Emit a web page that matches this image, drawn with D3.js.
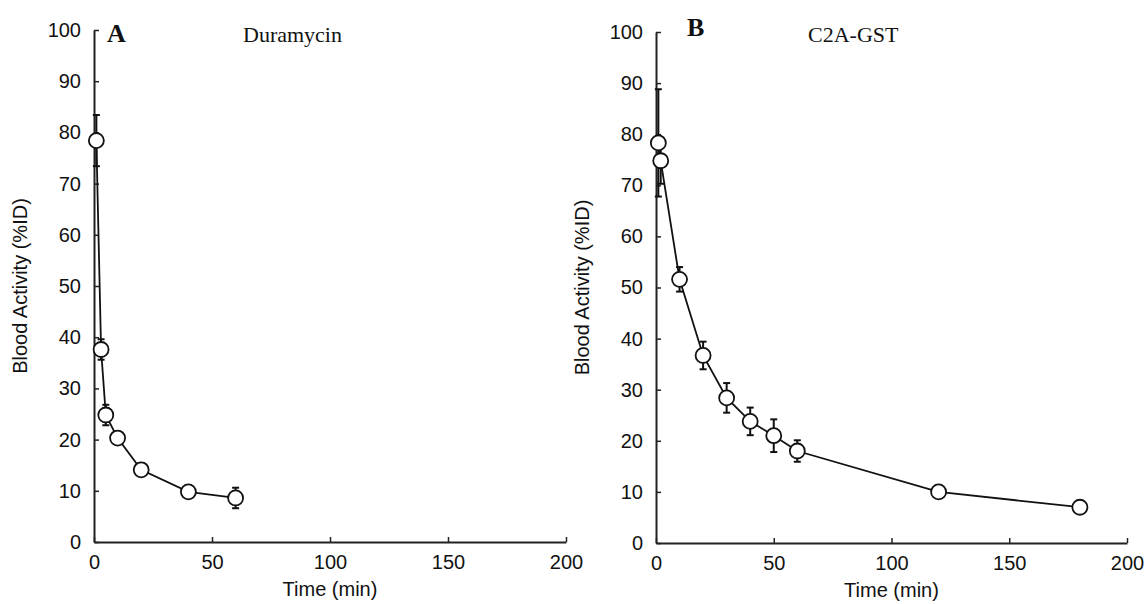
<!DOCTYPE html>
<html>
<head>
<meta charset="utf-8">
<script src="https://d3js.org/d3.v7.min.js"></script>
<style>
  body { margin: 0; background: #fff; }
  svg { display: block; }
</style>
</head>
<body>
<svg width="1147" height="604"></svg>
<script>
// panel A - duramycin
var timesA = [1, 3, 5, 10, 20, 40, 60];
var valuesA = [78.4, 37.6, 24.8, 20.3, 14.1, 9.8, 8.6];
var errorsA = [5, 2, 2, 1, 1, 0.8, 2];

// panel B - C2A-GST
var timesB = [1, 2, 10, 20, 30, 40, 50, 60, 120, 180];
var valuesB = [78.3, 74.8, 51.6, 36.7, 28.4, 23.8, 21.0, 18.0, 10.0, 7.0];
var errorsB = [10.5, 4.5, 2.4, 2.7, 2.9, 2.7, 3.2, 2.1, 0.8, 0.8];

var xTicks = [0, 50, 100, 150, 200];
var yTicks = [0, 10, 20, 30, 40, 50, 60, 70, 80, 90, 100];

var panels = [
  {letter: "A", title: "Duramycin", times: timesA, values: valuesA, errors: errorsA,
   left: 94, right: 566, top: 30, bottom: 542, letterX: 107, letterY: 42, titleX: 243, titleY: 42},
  {letter: "B", title: "C2A-GST", times: timesB, values: valuesB, errors: errorsB,
   left: 656, right: 1127, top: 32, bottom: 543, letterX: 687, letterY: 36, titleX: 808, titleY: 42}
];

var svg = d3.select("svg");

function drawPanel(p) {
  var x = d3.scaleLinear().domain([0, 200]).range([p.left, p.right]);
  var y = d3.scaleLinear().domain([0, 100]).range([p.bottom, p.top]);

  var g = svg.append("g");

  // axes, ticks pointing inward
  var xAxis = d3.axisBottom(x).tickValues(xTicks).tickSizeInner(-5).tickSizeOuter(0).tickPadding(13);
  var yAxis = d3.axisLeft(y).tickValues(yTicks).tickSizeInner(-5).tickSizeOuter(0).tickPadding(13);

  g.append("g")
    .attr("transform", "translate(0," + p.bottom + ")")
    .call(xAxis);
  g.append("g")
    .attr("transform", "translate(" + p.left + ",0)")
    .call(yAxis);

  g.selectAll(".domain").attr("stroke", "#222").attr("stroke-width", 2);
  g.selectAll(".tick line").attr("stroke", "#222").attr("stroke-width", 1.5);
  g.selectAll(".tick text")
    .attr("fill", "#111")
    .style("font-family", "'Liberation Sans', Arial, sans-serif")
    .style("font-size", "20px");

  // axis titles
  g.append("text")
    .attr("x", (p.left + p.right) / 2)
    .attr("y", p.bottom + 54)
    .attr("text-anchor", "middle")
    .style("font-family", "'Liberation Sans', Arial, sans-serif")
    .style("font-size", "20px")
    .attr("fill", "#111")
    .text("Time (min)");

  g.append("text")
    .attr("transform", "translate(" + (p.left - 67) + "," + ((p.top + p.bottom) / 2) + ") rotate(-90)")
    .attr("text-anchor", "middle")
    .style("font-family", "'Liberation Sans', Arial, sans-serif")
    .style("font-size", "20px")
    .attr("fill", "#111")
    .text("Blood Activity (%ID)");

  // panel letter and title
  g.append("text")
    .attr("x", p.letterX).attr("y", p.letterY)
    .style("font-family", "'Liberation Serif', 'Times New Roman', serif")
    .style("font-size", "26px").style("font-weight", "bold")
    .attr("fill", "#111")
    .text(p.letter);
  g.append("text")
    .attr("x", p.titleX).attr("y", p.titleY)
    .style("font-family", "'Liberation Serif', 'Times New Roman', serif")
    .style("font-size", "22px")
    .attr("fill", "#111")
    .text(p.title);

  var data = p.times.map(function(t, i) {
    return {t: t, v: p.values[i], e: p.errors[i]};
  });

  // error bars
  var bars = g.selectAll(".err").data(data).enter().append("g");
  bars.append("line")
    .attr("x1", function(d) { return x(d.t); })
    .attr("x2", function(d) { return x(d.t); })
    .attr("y1", function(d) { return y(d.v + d.e); })
    .attr("y2", function(d) { return y(d.v - d.e); })
    .attr("stroke", "#111").attr("stroke-width", 2);
  [1, -1].forEach(function(s) {
    bars.append("line")
      .attr("x1", function(d) { return x(d.t) - 3.5; })
      .attr("x2", function(d) { return x(d.t) + 3.5; })
      .attr("y1", function(d) { return y(d.v + s * d.e); })
      .attr("y2", function(d) { return y(d.v + s * d.e); })
      .attr("stroke", "#111").attr("stroke-width", 2);
  });

  // connecting line
  var line = d3.line()
    .x(function(d) { return x(d.t); })
    .y(function(d) { return y(d.v); });
  g.append("path")
    .datum(data)
    .attr("d", line)
    .attr("fill", "none")
    .attr("stroke", "#111")
    .attr("stroke-width", 1.8);

  // markers
  g.selectAll(".pt").data(data).enter().append("circle")
    .attr("cx", function(d) { return x(d.t); })
    .attr("cy", function(d) { return y(d.v); })
    .attr("r", 7.5)
    .attr("fill", "#fff")
    .attr("stroke", "#111")
    .attr("stroke-width", 1.8);
}

panels.forEach(drawPanel);
</script>
</body>
</html>
